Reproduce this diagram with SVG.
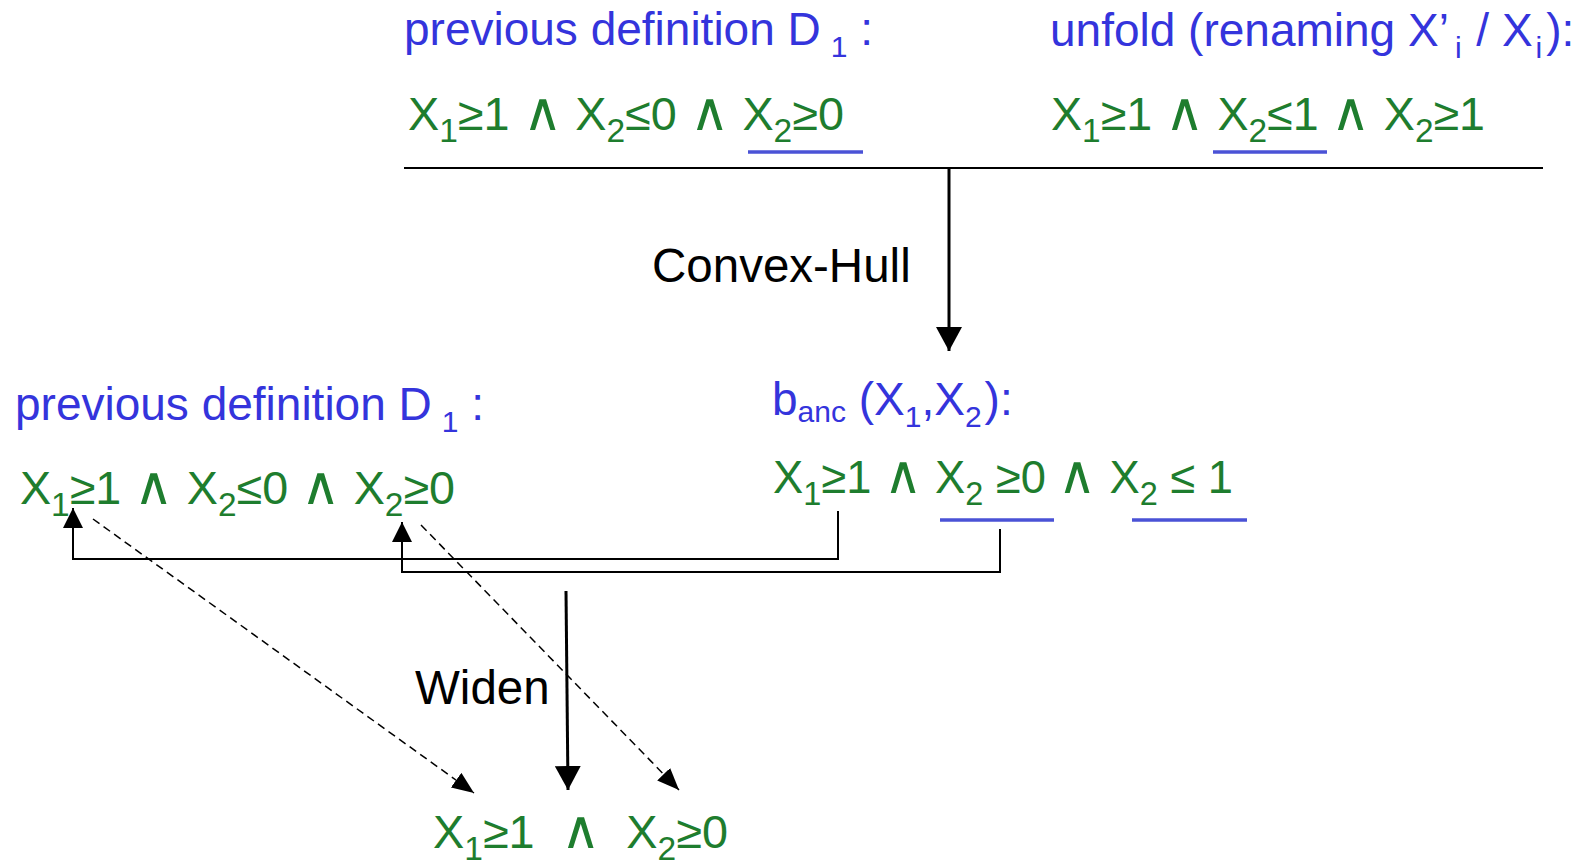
<svg xmlns="http://www.w3.org/2000/svg" width="1589" height="861" viewBox="0 0 1589 861">
<style>
text{font-family:"Liberation Sans",Arial,sans-serif;font-size:46px}
.b{fill:#3434dc}
.g{fill:#1e7d2e}
.k{fill:#000;font-size:47.5px}
.s{font-size:33px}
.bs{font-size:30px}
.a{font-size:53px}
.ul{stroke:#4a52d6;stroke-width:3.5}
.ln{stroke:#000;fill:none}
</style>
<defs>
<marker id="big" viewBox="0 0 24 26" markerWidth="24" markerHeight="26" refX="24" refY="13" orient="auto" markerUnits="userSpaceOnUse"><path d="M0,0 L24,13 L0,26 z" fill="#000"/></marker>
<marker id="mid" viewBox="0 0 20 20" markerWidth="20" markerHeight="20" refX="20" refY="10" orient="auto" markerUnits="userSpaceOnUse"><path d="M0,0 L20,10 L0,20 z" fill="#000"/></marker>
<marker id="sm" viewBox="0 0 22 18" markerWidth="22" markerHeight="18" refX="22" refY="9" orient="auto" markerUnits="userSpaceOnUse"><path d="M0,0 L22,9 L0,18 z" fill="#000"/></marker>
</defs>
<rect width="1589" height="861" fill="#fff"/>

<g id="prev-top">
<text class="b" x="404" y="45">previous definition D<tspan class="bs" dx="10" dy="12">1</tspan><tspan dy="-12"> :</tspan></text>
<text class="g" x="408" y="130" textLength="436" lengthAdjust="spacingAndGlyphs">X<tspan class="s" dy="12">1</tspan><tspan dy="-12">≥1 </tspan><tspan class="a">∧</tspan> X<tspan class="s" dy="12">2</tspan><tspan dy="-12">≤0 </tspan><tspan class="a">∧</tspan> X<tspan class="s" dy="12">2</tspan><tspan dy="-12">≥0</tspan></text>
<line class="ul" x1="748" y1="152" x2="863" y2="152"/>
</g>

<g id="unfold">
<text class="b" x="1050" y="46">unfold (renaming X’<tspan class="bs" dx="6" dy="12">i</tspan><tspan dx="2" dy="-12"> / X</tspan><tspan class="bs" dx="3" dy="12">i</tspan><tspan dx="4" dy="-12">):</tspan></text>
<text class="g" x="1051" y="130" textLength="434" lengthAdjust="spacingAndGlyphs">X<tspan class="s" dy="12">1</tspan><tspan dy="-12">≥1 </tspan><tspan class="a">∧</tspan> X<tspan class="s" dy="12">2</tspan><tspan dy="-12">≤1 </tspan><tspan class="a">∧</tspan> X<tspan class="s" dy="12">2</tspan><tspan dy="-12">≥1</tspan></text>
<line class="ul" x1="1213" y1="152" x2="1327" y2="152"/>
</g>

<g id="rule-line">
<line x1="404" y1="168" x2="1543" y2="168" stroke="#000" stroke-width="2"/>
</g>

<g id="prev-mid">
<text class="b" x="15" y="420">previous definition D<tspan class="bs" dx="10" dy="12">1</tspan><tspan dy="-12"> :</tspan></text>
<text class="g" x="20" y="504" textLength="435" lengthAdjust="spacingAndGlyphs">X<tspan class="s" dy="12">1</tspan><tspan dy="-12">≥1 </tspan><tspan class="a">∧</tspan> X<tspan class="s" dy="12">2</tspan><tspan dy="-12">≤0 </tspan><tspan class="a">∧</tspan> X<tspan class="s" dy="12">2</tspan><tspan dy="-12">≥0</tspan></text>
</g>

<g id="banc">
<text class="b" x="772" y="415">b<tspan class="bs" dy="7">anc</tspan><tspan dy="-7"> (X</tspan><tspan class="bs" dy="12">1</tspan><tspan dy="-12">,X</tspan><tspan class="bs" dy="12">2</tspan><tspan dx="3" dy="-12">):</tspan></text>
<text class="g" x="773" y="493" textLength="460" lengthAdjust="spacingAndGlyphs">X<tspan class="s" dy="12">1</tspan><tspan dy="-12">≥1 </tspan><tspan class="a">∧</tspan> X<tspan class="s" dy="12">2</tspan><tspan dy="-12"> ≥0 </tspan><tspan class="a">∧</tspan> X<tspan class="s" dy="12">2</tspan><tspan dy="-12"> ≤ 1</tspan></text>
<line class="ul" x1="940" y1="520" x2="1054" y2="520"/>
<line class="ul" x1="1132" y1="520" x2="1247" y2="520"/>
</g>

<g id="result">
<text class="g" x="433" y="848" xml:space="preserve" textLength="295" lengthAdjust="spacingAndGlyphs">X<tspan class="s" dy="12">1</tspan><tspan dy="-12">≥1  </tspan><tspan class="a">∧</tspan>  X<tspan class="s" dy="12">2</tspan><tspan dy="-12">≥0</tspan></text>
</g>

<g id="labels">
<text class="k" x="652" y="282">Convex-Hull</text>
<text class="k" x="415" y="704">Widen</text>
</g>

<g id="connectors">
<line class="ln" x1="949" y1="168" x2="949" y2="351" stroke-width="3" marker-end="url(#big)"/>
<line class="ln" x1="566" y1="591" x2="568" y2="790" stroke-width="3" marker-end="url(#big)"/>
<path class="ln" d="M838,511 V559 H73 V508" stroke-width="2" marker-end="url(#mid)"/>
<path class="ln" d="M1000,529 V572 H402 V522" stroke-width="2" marker-end="url(#mid)"/>
<line class="ln" x1="93" y1="519" x2="474" y2="793" stroke-width="1.5" stroke-dasharray="8,5" marker-end="url(#sm)"/>
<line class="ln" x1="421" y1="525" x2="679" y2="790" stroke-width="1.5" stroke-dasharray="8,5" marker-end="url(#sm)"/>
</g>
</svg>
